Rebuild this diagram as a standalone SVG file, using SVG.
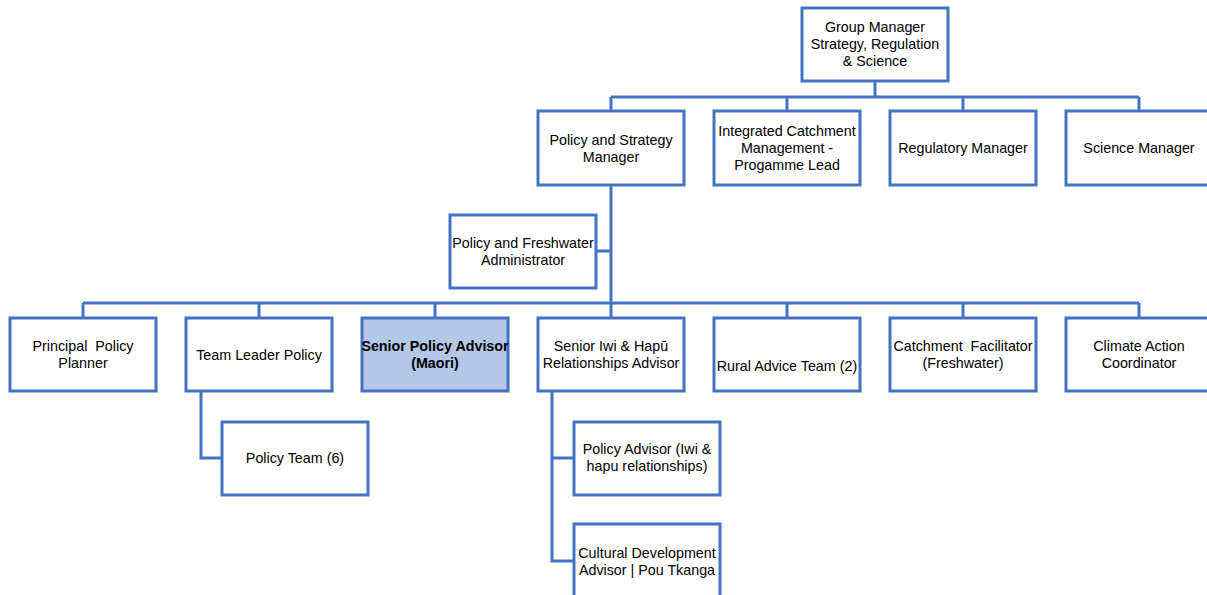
<svg xmlns="http://www.w3.org/2000/svg" width="1207" height="595" viewBox="0 0 1207 595">
<style>
.box{fill:#ffffff;stroke:#4472c4;stroke-width:3}
.hl{fill:#b4c7e7}
.ln{fill:none;stroke:#4472c4;stroke-width:3}
text{font-family:"Liberation Sans",Arial,sans-serif;font-size:14.3px;fill:#000;text-anchor:middle;white-space:pre}
.b{font-weight:bold}
</style>
<rect width="1207" height="595" fill="#ffffff"/>
<g id="connectors">
<path class="ln" d="M875 81V97M611 97H1139M611 97V111M787 97V111M963 97V111M1139 97V111"/>
<path class="ln" d="M611 185V318M596 251H611"/>
<path class="ln" d="M83 303H1139M83 303V318M259 303V318M435 303V318M787 303V318M963 303V318M1139 303V318"/>
<path class="ln" d="M201 391V458H222"/>
<path class="ln" d="M552 391V561H574M552 458H574"/>
</g>
<g id="n-group-manager"><rect class="box" x="802" y="8" width="146" height="73"/><text x="875" y="32">Group Manager</text><text x="875" y="49">Strategy, Regulation</text><text x="875" y="66">&amp; Science</text></g>
<g id="n-policy-strategy"><rect class="box" x="538" y="111" width="146" height="74"/><text x="611" y="145">Policy and Strategy</text><text x="611" y="162">Manager</text></g>
<g id="n-integrated"><rect class="box" x="714" y="111" width="146" height="74"/><text x="787" y="136">Integrated Catchment</text><text x="787" y="153">Management -</text><text x="787" y="170">Progamme Lead</text></g>
<g id="n-regulatory"><rect class="box" x="890" y="111" width="146" height="74"/><text x="963" y="153">Regulatory Manager</text></g>
<g id="n-science"><rect class="box" x="1066" y="111" width="146" height="74"/><text x="1139" y="153">Science Manager</text></g>
<g id="n-admin"><rect class="box" x="450" y="215" width="146" height="73"/><text x="523" y="248">Policy and Freshwater</text><text x="523" y="265">Administrator</text></g>
<g id="n-principal"><rect class="box" x="10" y="318" width="146" height="73"/><text x="83" y="351" xml:space="preserve">Principal  Policy</text><text x="83" y="368">Planner</text></g>
<g id="n-team-leader"><rect class="box" x="186" y="318" width="146" height="73"/><text x="259" y="360">Team Leader Policy</text></g>
<g id="n-senior-policy"><rect class="box hl" x="362" y="318" width="146" height="73"/><text class="b" x="435" y="351" font-size="13.5">Senior Policy Advisor</text><text class="b" x="435" y="368" font-size="13.5">(Maori)</text></g>
<g id="n-senior-iwi"><rect class="box" x="538" y="318" width="146" height="73"/><text x="611" y="351">Senior Iwi &amp; Hapū</text><text x="611" y="368">Relationships Advisor</text></g>
<g id="n-rural"><rect class="box" x="714" y="318" width="146" height="73"/><text x="787" y="371">Rural Advice Team (2)</text></g>
<g id="n-catchment"><rect class="box" x="890" y="318" width="146" height="73"/><text x="963" y="351" xml:space="preserve">Catchment  Facilitator</text><text x="963" y="368">(Freshwater)</text></g>
<g id="n-climate"><rect class="box" x="1066" y="318" width="146" height="73"/><text x="1139" y="351">Climate Action</text><text x="1139" y="368">Coordinator</text></g>
<g id="n-policy-team"><rect class="box" x="222" y="422" width="146" height="73"/><text x="295" y="463">Policy Team (6)</text></g>
<g id="n-policy-advisor"><rect class="box" x="574" y="422" width="146" height="73"/><text x="647" y="454">Policy Advisor (Iwi &amp;</text><text x="647" y="471">hapu relationships)</text></g>
<g id="n-cultural"><rect class="box" x="574" y="524" width="146" height="74"/><text x="647" y="558">Cultural Development</text><text x="647" y="575">Advisor | Pou Tkanga</text></g>
</svg>
